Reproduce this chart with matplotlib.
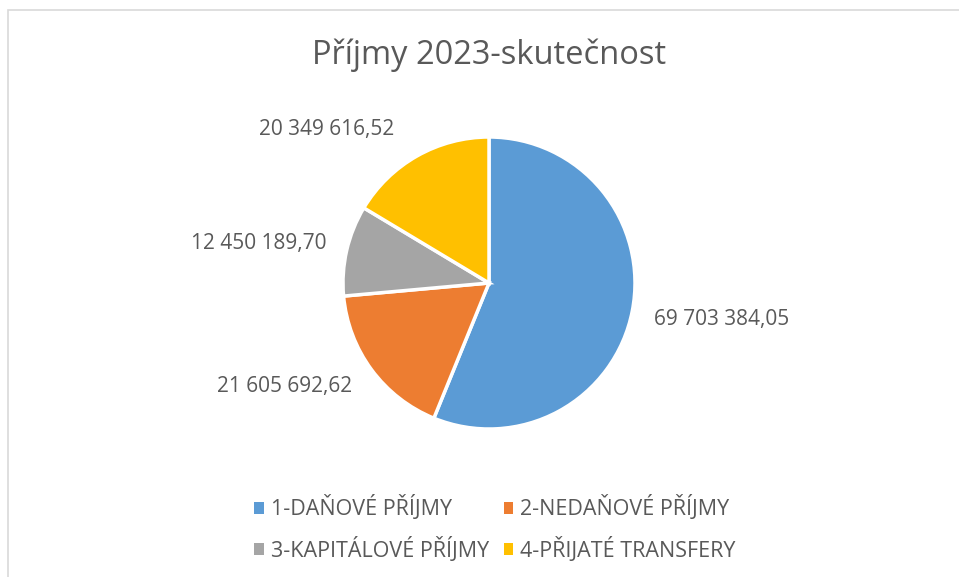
import matplotlib.pyplot as plt
from matplotlib.patches import Rectangle

plt.rcParams['font.family'] = ['Open Sans', 'DejaVu Sans']

# data
kategorie = ["1-DAŇOVÉ PŘÍJMY", "2-NEDAŇOVÉ PŘÍJMY", "3-KAPITÁLOVÉ PŘÍJMY", "4-PŘIJATÉ TRANSFERY"]
hodnoty = [69703384.05, 21605692.62, 12450189.70, 20349616.52]
popisky = ["69 703 384,05", "21 605 692,62", "12 450 189,70", "20 349 616,52"]
barvy = ["#5B9BD5", "#ED7D31", "#A5A5A5", "#FFC000"]

# pozice popisku (v polomerech kolace)
pozice_popisku = [(1.59, -0.25), (-1.40, -0.71), (-1.58, 0.27), (-1.11, 1.05)]

SEDA = "#595959"

fig = plt.figure(figsize=(9.59, 5.77), dpi=100)
ax = fig.add_axes([0, 0, 1, 1])

wedges, texty = ax.pie(hodnoty, colors=barvy, startangle=90, counterclock=False,
                       labels=popisky, radius=1,
                       wedgeprops=dict(edgecolor="white", linewidth=2.5),
                       textprops=dict(color=SEDA, fontsize=15))

for t, (x, y) in zip(texty, pozice_popisku):
    t.set_position((x, y))
    t.set_ha("center")
    t.set_va("center")

ax.set_aspect("auto")
ax.set_xlim(-489 / 146, (959 - 489) / 146)
ax.set_ylim(-294 / 146, 283 / 146)
ax.axis("off")

fig.text(0.51, 0.905, "Příjmy 2023-skutečnost", ha="center", va="center",
         fontsize=23.5, color=SEDA)

# legenda po radcich: 1, 2 / 3, 4
poradi = [0, 2, 1, 3]
leg = fig.legend([wedges[i] for i in poradi], [kategorie[i] for i in poradi],
                 ncol=2, loc="center", bbox_to_anchor=(0.516, 0.084),
                 frameon=False, fontsize=15.5, labelcolor=SEDA,
                 handlelength=0.45, handleheight=0.45, handletextpad=0.3,
                 columnspacing=0.7, labelspacing=0.75)
for h in leg.legend_handles:
    h.set_linewidth(0)

# ramecek grafu
fig.patches.append(Rectangle((8 / 959, -0.1), 1.2, 1 - 10 / 577 + 0.1,
                             transform=fig.transFigure, fill=False,
                             edgecolor="#D9D9D9", linewidth=1.2))

plt.savefig("out.png", dpi=100)
